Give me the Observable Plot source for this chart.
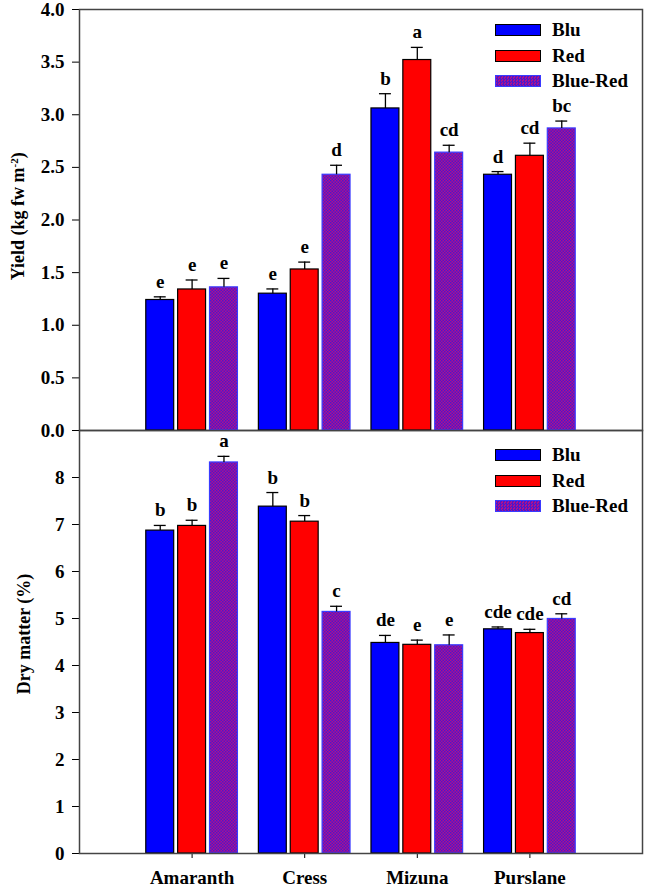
<!DOCTYPE html>
<html><head><meta charset="utf-8">
<script src="https://cdn.jsdelivr.net/npm/d3@7"></script>
<script src="https://cdn.jsdelivr.net/npm/@observablehq/plot@0.6"></script>
<style>
body{margin:0;background:#fff;}
#wrap{position:relative;width:646px;height:889px;font-family:"Liberation Serif","Times New Roman",serif;font-weight:bold;color:#000;overflow:hidden;}
.panel{position:absolute;left:0;}
.leg{position:absolute;left:495px;font-size:19px;}
.item{position:absolute;left:0;white-space:nowrap;}
.sw{position:absolute;left:0;width:46px;height:12px;box-sizing:border-box;}
.lab{position:absolute;left:57px;line-height:1;}
.ytitle{position:absolute;width:300px;text-align:center;font-size:18px;line-height:1;transform:rotate(-90deg);transform-origin:50% 50%;white-space:nowrap;}
.ytitle sup{font-size:11px;vertical-align:0.6em;}
</style></head><body><div id="wrap"></div>
<script>
const crops = ["Amaranth", "Cress", "Mizuna", "Purslane"];
const treatments = ["Blu", "Red", "Blue-Red"];

// Yield (kg fw m-2)
const yieldBlu = [1.24, 1.30, 3.06, 2.43];
const yieldRed = [1.34, 1.53, 3.52, 2.61];
const yieldBlueRed = [1.36, 2.43, 2.64, 2.87];
const yieldBluErr = [0.03, 0.045, 0.14, 0.03];
const yieldRedErr = [0.09, 0.07, 0.12, 0.12];
const yieldBlueRedErr = [0.085, 0.09, 0.07, 0.07];
const yieldBluLetters = ["e", "e", "b", "d"];
const yieldRedLetters = ["e", "e", "a", "cd"];
const yieldBlueRedLetters = ["e", "d", "cd", "bc"];

// Dry matter (%)
const dmBlu = [6.87, 7.38, 4.48, 4.77];
const dmRed = [6.97, 7.06, 4.44, 4.69];
const dmBlueRed = [8.32, 5.14, 4.43, 4.99];
const dmBluErr = [0.11, 0.30, 0.16, 0.05];
const dmRedErr = [0.12, 0.13, 0.10, 0.08];
const dmBlueRedErr = [0.13, 0.12, 0.22, 0.11];
const dmBluLetters = ["b", "b", "de", "cde"];
const dmRedLetters = ["b", "b", "e", "cde"];
const dmBlueRedLetters = ["a", "c", "e", "cd"];

const yieldTicks = [0, 0.5, 1, 1.5, 2, 2.5, 3, 3.5, 4];
const dmTicks = [0, 1, 2, 3, 4, 5, 6, 7, 8];

const OFFSET = 0.283, HALF = 0.124, CAP = 0.053;

function rows(means, errs, letters) {
  const out = [];
  means.forEach((m, s) => m.forEach((v, g) => out.push({
    crop: crops[g], treat: treatments[s], g, s, mean: v, err: errs[s][g], letter: letters[s][g],
    xc: g + 1 + (s - 1) * OFFSET
  })));
  return out;
}
const yieldRows = rows([yieldBlu, yieldRed, yieldBlueRed], [yieldBluErr, yieldRedErr, yieldBlueRedErr], [yieldBluLetters, yieldRedLetters, yieldBlueRedLetters]);
const dmRows = rows([dmBlu, dmRed, dmBlueRed], [dmBluErr, dmRedErr, dmBlueRedErr], [dmBluLetters, dmRedLetters, dmBlueRedLetters]);

function barMarks(data, patId) {
  const fills = ["#0000ff", "#ff0000", `url(#${patId})`];
  const strokes = ["#000", "#000", "#3a3aff"];
  const marks = [];
  treatments.forEach((t, s) => {
    marks.push(Plot.rectY(data.filter(d => d.s === s), {
      x1: d => d.xc - HALF, x2: d => d.xc + HALF, y1: 0, y2: "mean",
      fill: fills[s], stroke: strokes[s], strokeWidth: 1.2
    }));
  });
  marks.push(Plot.ruleX(data, {x: "xc", y1: "mean", y2: d => d.mean + d.err, stroke: "#000", strokeWidth: 1.3}));
  marks.push(Plot.ruleY(data, {y: d => d.mean + d.err, x1: d => d.xc - CAP, x2: d => d.xc + CAP, stroke: "#000", strokeWidth: 1.3}));
  marks.push(Plot.text(data, {x: "xc", y: d => d.mean + d.err, text: "letter", dy: -9, lineAnchor: "bottom", fontSize: 19, fontWeight: "bold"}));
  marks.push(Plot.frame({stroke: "#444", strokeWidth: 1.5}));
  return marks;
}

function addPattern(svg, id) {
  const defs = d3.select(svg).insert("defs", ":first-child");
  const p = defs.append("pattern").attr("id", id).attr("width", 3).attr("height", 3).attr("patternUnits", "userSpaceOnUse");
  p.append("rect").attr("width", 3).attr("height", 3).attr("fill", "#b0108c");
  p.append("rect").attr("width", 1.5).attr("height", 1.5).attr("fill", "#4a18cc");
  p.append("rect").attr("x", 1.5).attr("y", 1.5).attr("width", 1.5).attr("height", 1.5).attr("fill", "#4a18cc");
}

const baseStyle = {background: "transparent", fontFamily: "'Liberation Serif','Times New Roman',serif", fontWeight: "bold", fontSize: "19px", color: "#000", overflow: "visible"};

const topPlot = Plot.plot({
  width: 646, height: 440,
  marginTop: 9, marginBottom: 10, marginLeft: 79, marginRight: 4,
  style: baseStyle,
  x: {domain: [0, 5], axis: null},
  y: {domain: [0, 4], ticks: yieldTicks, tickFormat: d3.format(".1f"), tickSize: 7, tickPadding: 8, label: null},
  marks: barMarks(yieldRows, "patTop")
});
addPattern(topPlot, "patTop");

const bottomPlot = Plot.plot({
  width: 646, height: 459,
  marginTop: 0, marginBottom: 36, marginLeft: 79, marginRight: 4,
  style: baseStyle,
  x: {domain: [0, 5], ticks: [1, 2, 3, 4], tickFormat: d => crops[d - 1], tickSize: 5, tickPadding: 12, label: null},
  y: {domain: [0, 9], ticks: dmTicks, tickFormat: d3.format("d"), tickSize: 7, tickPadding: 8, label: null},
  marks: barMarks(dmRows, "patBot")
});
addPattern(bottomPlot, "patBot");

const wrap = document.getElementById("wrap");
const bdiv = document.createElement("div"); bdiv.className = "panel"; bdiv.style.top = "430px"; bdiv.appendChild(bottomPlot); wrap.appendChild(bdiv);
const tdiv = document.createElement("div"); tdiv.className = "panel"; tdiv.style.top = "0px"; tdiv.appendChild(topPlot); wrap.appendChild(tdiv);

const swStyles = [
  "background:#0000ff;border:1.5px solid #000;",
  "background:#ff0000;border:1.5px solid #000;",
  "background:repeating-conic-gradient(#4a18cc 0 25%, #b0108c 0 50%) 0 0/3px 3px;border:1px solid #3a3aff;"
];
function legend(topPx) {
  const lg = document.createElement("div"); lg.className = "leg"; lg.style.top = topPx + "px";
  treatments.forEach((t, i) => {
    const it = document.createElement("div"); it.className = "item"; it.style.top = (i * 25.5) + "px";
    it.innerHTML = `<div class="sw" style="${swStyles[i]}"></div><div class="lab" style="top:-4px">${t}</div>`;
    lg.appendChild(it);
  });
  wrap.appendChild(lg);
}
legend(24);
legend(449);

function ytitle(html, cx, cy) {
  const d = document.createElement("div"); d.className = "ytitle";
  d.style.left = (cx - 150) + "px"; d.style.top = (cy - 9) + "px";
  d.innerHTML = html; wrap.appendChild(d);
}
ytitle("Yield (kg fw m<sup>-2</sup>)", 18, 216);
ytitle("Dry matter (%)", 24, 634);
</script></body></html>
